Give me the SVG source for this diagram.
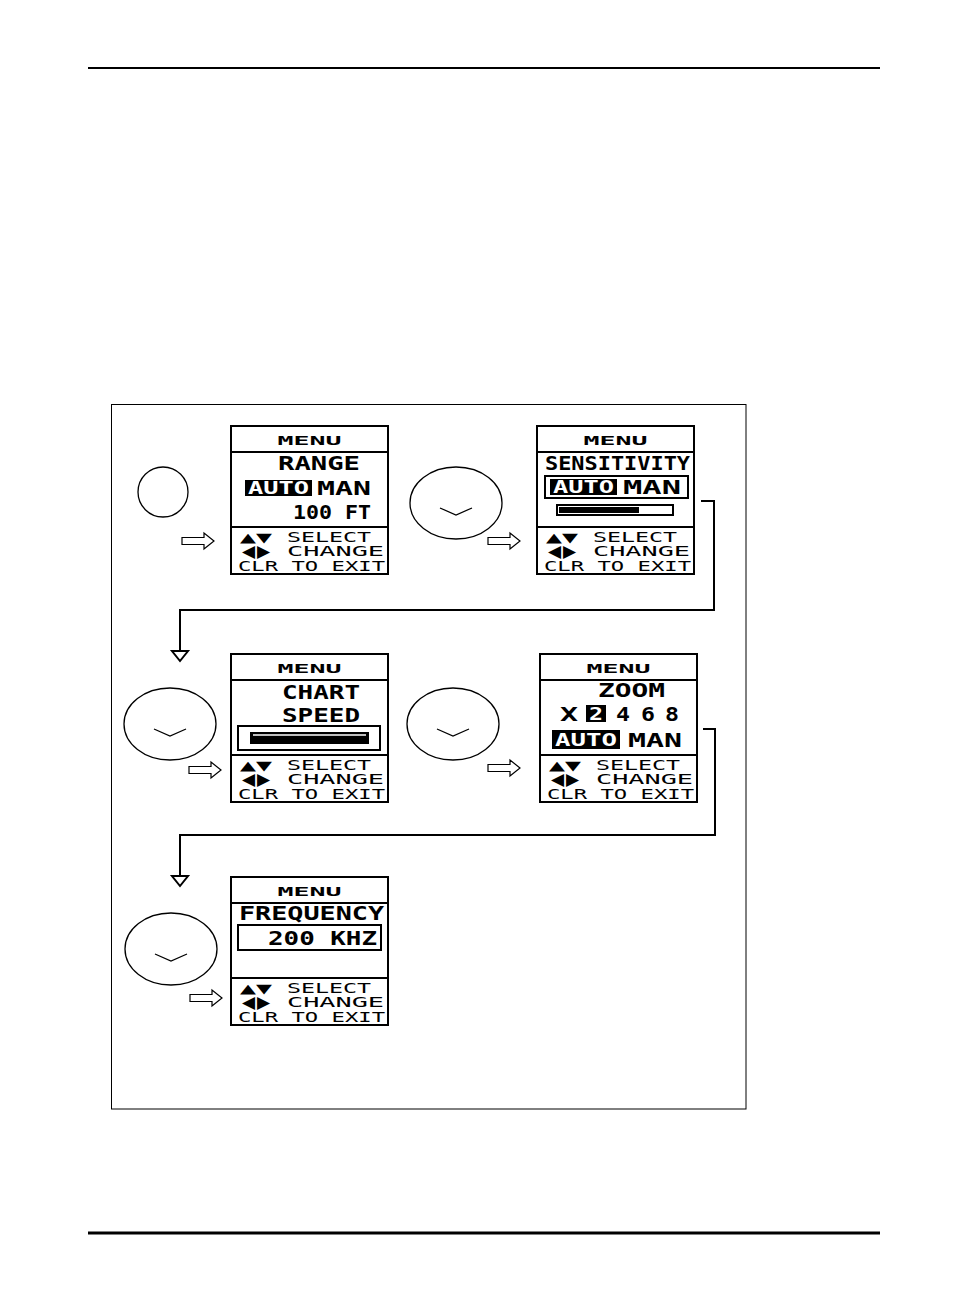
<svg xmlns="http://www.w3.org/2000/svg" width="954" height="1298" viewBox="0 0 954 1298">
<defs>
<style>
.scr{fill:#fff;stroke:#000;stroke-width:2}
.div{stroke:#000;stroke-width:2}
.hd{font-family:"DejaVu Sans Mono","Liberation Mono",monospace;font-weight:bold;font-size:13px;fill:#000}
.big{font-family:"DejaVu Sans Mono","Liberation Mono",monospace;font-weight:bold;font-size:20px;fill:#000}
.inv{font-family:"DejaVu Sans Mono","Liberation Mono",monospace;font-weight:bold;font-size:18px;fill:#fff}
.sm{font-family:"DejaVu Sans Mono","Liberation Mono",monospace;font-size:14px;fill:#000}
.sym{font-family:"DejaVu Sans","Liberation Sans",sans-serif;font-size:13px;fill:#000}
.sym2{font-family:"DejaVu Sans","Liberation Sans",sans-serif;font-size:17px;fill:#000}
.key{fill:#fff;stroke:#000;stroke-width:1.3}
.box{fill:none;stroke:#000;stroke-width:2}
.conn{fill:none;stroke:#000;stroke-width:2}
.harrow{fill:#fff;stroke:#000;stroke-width:1.2}
</style>
<g id="foot">
<line class="div" x1="0" y1="101" x2="157" y2="101"/>
<text class="sym" x="9" y="116" textLength="32" lengthAdjust="spacingAndGlyphs">▲▼</text>
<text class="sm" x="56" y="116" textLength="84" lengthAdjust="spacingAndGlyphs">SELECT</text>
<text class="sym2" y="131"><tspan x="11">◀</tspan><tspan x="26">▶</tspan></text>
<text class="sm" x="56" y="130" textLength="97" lengthAdjust="spacingAndGlyphs">CHANGE</text>
<text class="sm" x="7" y="145" textLength="147" lengthAdjust="spacingAndGlyphs">CLR TO EXIT</text>
</g>
<g id="head">
<rect class="scr" x="0" y="0" width="157" height="148"/>
<line class="div" x1="0" y1="26" x2="157" y2="26"/>
<text class="hd" x="78.5" y="19" text-anchor="middle" textLength="64" lengthAdjust="spacingAndGlyphs">MENU</text>
</g>
<path id="ha" class="harrow" d="M0,-3.5 H22 V-8 L32,0 L22,8 V3.5 H0 Z"/>
<path id="chev" fill="none" stroke="#000" stroke-width="1.3" d="M-16,5 L0,12 L16,5"/>
</defs>
<line x1="88" y1="68" x2="880" y2="68" stroke="#000" stroke-width="2"/>
<line x1="88" y1="1233" x2="880" y2="1233" stroke="#000" stroke-width="3"/>
<rect x="111.5" y="404.5" width="634.5" height="704.5" fill="none" stroke="#000" stroke-width="1"/>
<g id="connectors">
<path class="conn" d="M701,501 H714 V610 H180 V651"/>
<path d="M172,651 L188,651 L180,661 Z" fill="#fff" stroke="#000" stroke-width="2"/>
<path class="conn" d="M703,729 H715 V835 H180 V876"/>
<path d="M172,876 L188,876 L180,886 Z" fill="#fff" stroke="#000" stroke-width="2"/>
<use href="#ha" x="182" y="541"/>
<use href="#ha" x="488" y="541"/>
<use href="#ha" x="189" y="770"/>
<use href="#ha" x="488" y="768"/>
<use href="#ha" x="190" y="998"/>
</g>
<g id="key1"><circle class="key" cx="163" cy="492" r="25"/></g>
<g id="key2"><ellipse class="key" cx="456" cy="503" rx="46" ry="36"/><use href="#chev" x="456" y="503"/></g>
<g id="key3"><ellipse class="key" cx="170" cy="724" rx="46" ry="36"/><use href="#chev" x="170" y="724"/></g>
<g id="key4"><ellipse class="key" cx="453" cy="724" rx="46" ry="36"/><use href="#chev" x="453" y="724"/></g>
<g id="key5"><ellipse class="key" cx="171" cy="949" rx="46" ry="36"/><use href="#chev" x="171" y="949"/></g>
<g id="screen-range" transform="translate(231,426)">
<use href="#head"/>
<text class="big" x="47" y="44" textLength="82" lengthAdjust="spacingAndGlyphs">RANGE</text>
<rect x="14" y="54" width="67" height="16" fill="#000"/>
<text class="inv" x="17" y="68" textLength="61" lengthAdjust="spacingAndGlyphs">AUTO</text>
<text class="big" x="86" y="69" textLength="54" lengthAdjust="spacingAndGlyphs">MAN</text>
<text class="big" x="62" y="93" textLength="78" lengthAdjust="spacingAndGlyphs">100 FT</text>
<use href="#foot"/>
</g>
<g id="screen-sensitivity" transform="translate(537,426)">
<use href="#head"/>
<text class="big" x="8" y="44" textLength="145" lengthAdjust="spacingAndGlyphs">SENSITIVITY</text>
<rect class="box" x="8" y="50" width="143" height="22"/>
<rect x="13" y="53" width="67" height="16" fill="#000"/>
<text class="inv" x="16" y="67" textLength="61" lengthAdjust="spacingAndGlyphs">AUTO</text>
<text class="big" x="86" y="68" textLength="58" lengthAdjust="spacingAndGlyphs">MAN</text>
<rect class="box" x="20" y="79" width="116" height="10"/>
<rect x="22" y="81" width="80" height="6" fill="#000"/>
<use href="#foot"/>
</g>
<g id="screen-chart" transform="translate(231,654)">
<use href="#head"/>
<text class="big" x="51" y="45" textLength="78" lengthAdjust="spacingAndGlyphs">CHART</text>
<text class="big" x="51" y="68" textLength="78" lengthAdjust="spacingAndGlyphs">SPEED</text>
<rect class="box" x="7" y="72" width="142" height="24"/>
<rect x="19" y="78" width="119" height="12" fill="#000"/>
<line x1="22" y1="81" x2="135" y2="81" stroke="#fff" stroke-width="1.5"/>
<use href="#foot"/>
</g>
<g id="screen-zoom" transform="translate(540,654)">
<use href="#head"/>
<text class="big" x="58" y="43" textLength="67" lengthAdjust="spacingAndGlyphs">ZOOM</text>
<text class="big" x="20" y="67" textLength="18" lengthAdjust="spacingAndGlyphs">X</text>
<rect x="46" y="51" width="20" height="17" fill="#000"/>
<text class="inv" x="49" y="66" textLength="14" lengthAdjust="spacingAndGlyphs">2</text>
<text class="big" x="76" y="67" textLength="14" lengthAdjust="spacingAndGlyphs">4</text>
<text class="big" x="101" y="67" textLength="14" lengthAdjust="spacingAndGlyphs">6</text>
<text class="big" x="125" y="67" textLength="14" lengthAdjust="spacingAndGlyphs">8</text>
<rect x="12" y="76" width="68" height="19" fill="#000"/>
<text class="inv" x="15" y="92" textLength="62" lengthAdjust="spacingAndGlyphs">AUTO</text>
<text class="big" x="88" y="93" textLength="54" lengthAdjust="spacingAndGlyphs">MAN</text>
<use href="#foot"/>
</g>
<g id="screen-frequency" transform="translate(231,877)">
<use href="#head"/>
<text class="big" x="8" y="43" textLength="145" lengthAdjust="spacingAndGlyphs">FREQUENCY</text>
<rect class="box" x="7" y="48" width="143" height="25"/>
<text class="big" x="37" y="68" textLength="109" lengthAdjust="spacingAndGlyphs">200 KHZ</text>
<use href="#foot"/>
</g>
</svg>
